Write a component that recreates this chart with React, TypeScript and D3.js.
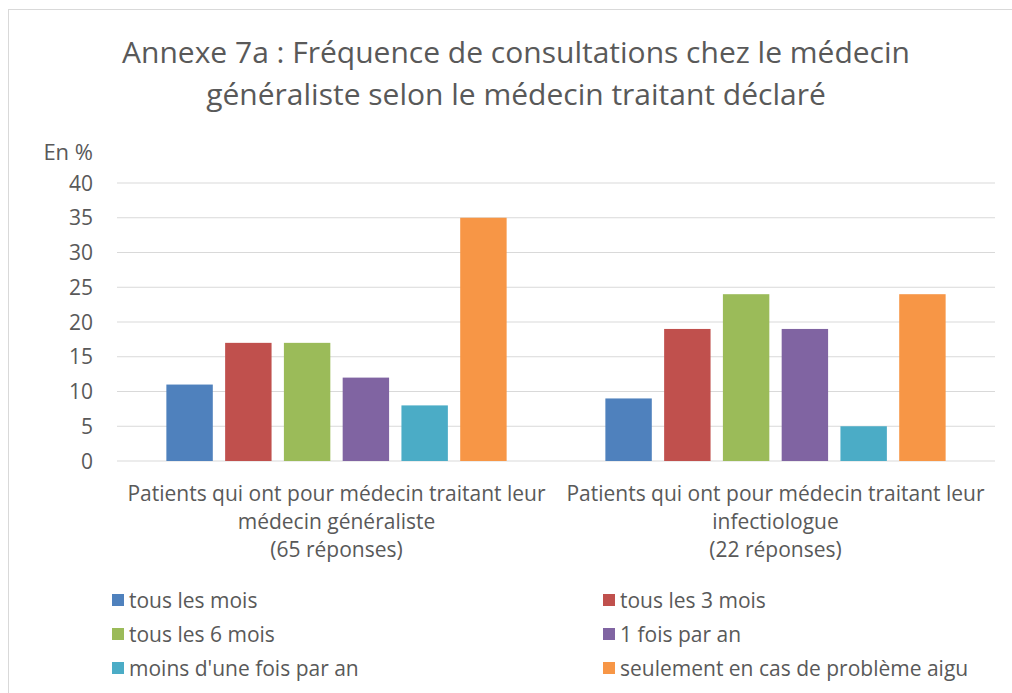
import React from "react";
import * as d3 from "d3";

const title = [
  "Annexe 7a : Fréquence de consultations chez le médecin",
  "généraliste selon le médecin traitant déclaré",
];
const yAxisLabel = "En %";
const categories = ["gen", "inf"];
const categoryLabels = [
  ["Patients qui ont pour médecin traitant leur", "médecin généraliste", "(65 réponses)"],
  ["Patients qui ont pour médecin traitant leur", "infectiologue", "(22 réponses)"],
];
const seriesNames = [
  "tous les mois",
  "tous les 3 mois",
  "tous les 6 mois",
  "1 fois par an",
  "moins d'une fois par an",
  "seulement en cas de problème aigu",
];
const seriesColors = ["#4F81BD", "#C0504D", "#9BBB59", "#8064A2", "#4BACC6", "#F79646"];
// values per series: [généraliste, infectiologue]
const tousLesMois = [11, 9];
const tousLes3Mois = [17, 19];
const tousLes6Mois = [17, 24];
const uneFoisParAn = [12, 19];
const moinsDUneFois = [8, 5];
const problemeAigu = [35, 24];
const seriesValues = [tousLesMois, tousLes3Mois, tousLes6Mois, uneFoisParAn, moinsDUneFois, problemeAigu];
const yTicks = [0, 5, 10, 15, 20, 25, 30, 35, 40];

const W = 1012;
const H = 693;
const FONT = "'Open Sans', 'DejaVu Sans', sans-serif";
const TXT = "#595959";

export default function App() {
  const x0 = d3.scaleBand<string>().domain(categories).range([117, 995]).paddingInner(0).paddingOuter(0);
  const x1 = d3
    .scaleBand<string>()
    .domain(seriesNames)
    .range([0, x0.bandwidth()])
    .paddingInner(0.21)
    .paddingOuter(0.84);
  const y = d3.scaleLinear().domain([0, 40]).range([461, 183]);

  return (
    <svg width={W} height={H} style={{ position: "absolute", left: 0, top: 0, display: "block" }} fontFamily={FONT}>
      <rect x={0} y={0} width={W} height={H} fill="#ffffff" />
      <rect x={8.5} y={9.5} width={W + 10} height={H + 10} fill="none" stroke="#d9d9d9" strokeWidth={1} />
      {title.map((t, i) => (
        <text key={i} x={516} y={63 + i * 42} textAnchor="middle" fontSize={30} fill={TXT}>
          {t}
        </text>
      ))}
      <text x={93} y={160} textAnchor="end" fontSize={22} fill={TXT}>
        {yAxisLabel}
      </text>
      {yTicks.map((t) => (
        <g key={t}>
          <line x1={117} x2={995} y1={y(t)} y2={y(t)} stroke="#d9d9d9" strokeWidth={1.2} />
          <text x={93} y={y(t) + 7.5} textAnchor="end" fontSize={21} fill={TXT}>
            {t}
          </text>
        </g>
      ))}
      {categories.map((c, ci) => (
        <g key={c} transform={`translate(${x0(c)},0)`}>
          {seriesNames.map((s, si) => {
            const v = seriesValues[si][ci];
            return (
              <rect
                key={s}
                x={x1(s)}
                y={y(v)}
                width={x1.bandwidth()}
                height={y(0) - y(v)}
                fill={seriesColors[si]}
              />
            );
          })}
        </g>
      ))}
      {categories.map((c, ci) =>
        categoryLabels[ci].map((l, li) => (
          <text
            key={c + li}
            x={(x0(c) as number) + x0.bandwidth() / 2}
            y={501 + li * 28}
            textAnchor="middle"
            fontSize={21}
            fill={TXT}
          >
            {l}
          </text>
        ))
      )}
      {seriesNames.map((s, si) => {
        const col = si % 2;
        const row = Math.floor(si / 2);
        const lx = col === 0 ? 112 : 603;
        const ly = 600 + row * 34;
        return (
          <g key={s}>
            <rect x={lx} y={ly - 6} width={12} height={12} fill={seriesColors[si]} />
            <text x={lx + 17} y={ly + 7.5} fontSize={21} fill={TXT}>
              {s}
            </text>
          </g>
        );
      })}
    </svg>
  );
}
